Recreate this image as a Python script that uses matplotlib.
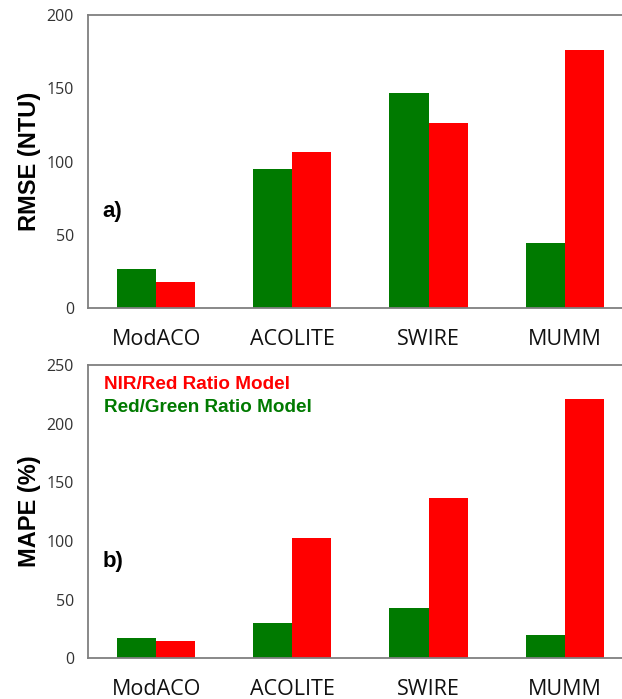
import numpy as np
from matplotlib import pyplot as plt

# データ
sensors = ['ModACO', 'ACOLITE', 'SWIRE', 'MUMM']
rmse_green = [26.4, 94.7, 147.0, 44.6]
rmse_red = [18.0, 106.7, 126.5, 176.3]
mape_green = [17.0, 29.8, 43.1, 19.9]
mape_red = [14.7, 102.8, 136.9, 221.3]

GREEN = '#007A00'
RED = '#FF0000'

if __name__ == '__main__':
    fig = plt.figure(figsize=(6.22, 6.99), dpi=100)
    x = np.arange(len(sensors))
    w = 0.287

    ax1 = fig.add_axes([0.1415, 0.5594, 0.876, 0.419])
    ax2 = fig.add_axes([0.1415, 0.0582, 0.876, 0.4196])

    panels = [
        (ax1, rmse_green, rmse_red, 200, 'RMSE (NTU)', 'a)', 50),
        (ax2, mape_green, mape_red, 250, 'MAPE (%)', 'b)', 50),
    ]
    for ax, g, r, ymax, ylab, tag, step in panels:
        ax.bar(x - w / 2, g, width=w, color=GREEN)
        ax.bar(x + w / 2, r, width=w, color=RED)
        ax.set_xlim(-0.5, 3.5)
        ax.set_ylim(0, ymax)
        ax.set_yticks(np.arange(0, ymax + 1, step))
        ax.set_xticks(x)
        ax.set_xticklabels(sensors, fontsize=15.5, family='Open Sans')
        for lab in ax.get_yticklabels():
            lab.set_family('Open Sans')
        ax.tick_params(axis='y', length=0, pad=10, labelsize=11.5, labelcolor='#333333')
        ax.tick_params(axis='x', length=0, pad=15, labelcolor='#111111')
        for s in ['left', 'bottom', 'top']:
            ax.spines[s].set_color('#7f7f7f')
            ax.spines[s].set_linewidth(1.3)
        ax.spines['right'].set_visible(False)
        ax.set_ylabel(ylab, fontsize=17, fontweight='bold', family='Liberation Sans', labelpad=4)
        ax.text(0.027, 0.33, tag, transform=ax.transAxes, fontsize=16,
                fontweight='bold', family='Liberation Sans', va='center')

    ax2.text(0.029, 0.935, 'NIR/Red Ratio Model', transform=ax2.transAxes, color=RED,
             fontsize=13.6, fontweight='bold', family='Liberation Sans', va='center')
    ax2.text(0.029, 0.855, 'Red/Green Ratio Model', transform=ax2.transAxes, color=GREEN,
             fontsize=13.6, fontweight='bold', family='Liberation Sans', va='center')

    fig.savefig('out.png', dpi=100)
